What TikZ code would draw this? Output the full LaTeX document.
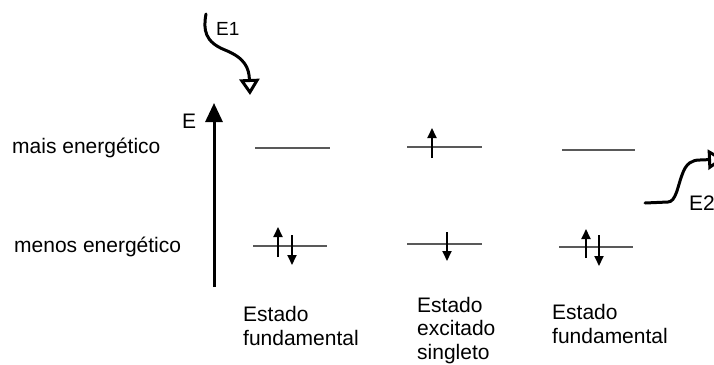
\documentclass[tikz,border=0pt]{standalone}
\usepackage{fontspec}
\setmainfont{Liberation Sans}
\usetikzlibrary{arrows.meta}

\begin{document}
\begin{tikzpicture}[x=1pt,y=-1pt,
  level/.style={draw=black!65, line width=2pt},
  spin/.style={line width=1.8pt, -{Triangle[width=9pt,length=10pt]}},
  axis/.style={line width=3pt, -{Triangle[width=17pt,length=19pt]}},
  squiggle/.style={line width=3pt, line cap=round, line join=round, -{Triangle[open,width=20pt,length=16pt]}},
  lbl/.style={inner sep=0pt, anchor=base west, align=left, font=\fontsize{21}{23.5}\selectfont}]
\useasboundingbox (0,0) rectangle (714,364);

% energy axis and its labels
\coordinate (axisbot) at (214,287);
\coordinate (axistop) at (214,103);
\draw[axis] (axisbot) -- (axistop);
\node[lbl] (Elbl) at (182,128) {E};
\node[lbl] (mais) at (12,153) {mais energético};
\node[lbl] (menos) at (14,252) {menos energético};

% levels
\draw[level] (255,148) -- (330,148);
\draw[level] (253,246) -- (327,246);
\draw[level] (407,147) -- (482,147);
\draw[level] (407,244) -- (482,244);
\draw[level] (562,150) -- (635,150);
\draw[level] (559,247) -- (633,247);

% electrons
\draw[spin] (278,257) -- (278,227);
\draw[spin] (292,235) -- (292,265);
\draw[spin] (432,158) -- (432,128);
\draw[spin] (447,232) -- (447,261);
\draw[spin] (586,258) -- (586,229);
\draw[spin] (599,235) -- (599,266);

% states (base = last line)
\node[lbl] (est1) at (243,345) {Estado\\fundamental};
\node[lbl] (est2) at (417,359) {Estado\\excitado\\singleto};
\node[lbl] (est3) at (552,343) {Estado\\fundamental};

% absorbed / emitted energy
\node[lbl, font=\fontsize{19}{22}\selectfont] (E1) at (216,35) {E1};
\draw[squiggle] (206,14) .. controls (203,30) and (205,42) .. (225,50)
  .. controls (245,58) and (249,68) .. (250,95);
\node[lbl] (E2) at (689,210) {E2};
\draw[squiggle] (645,203) -- (668,202) .. controls (676,202) and (678,185) .. (682,175)
  .. controls (686,163) and (692,160) .. (700,160) -- (724,159);
\end{tikzpicture}
\end{document}
